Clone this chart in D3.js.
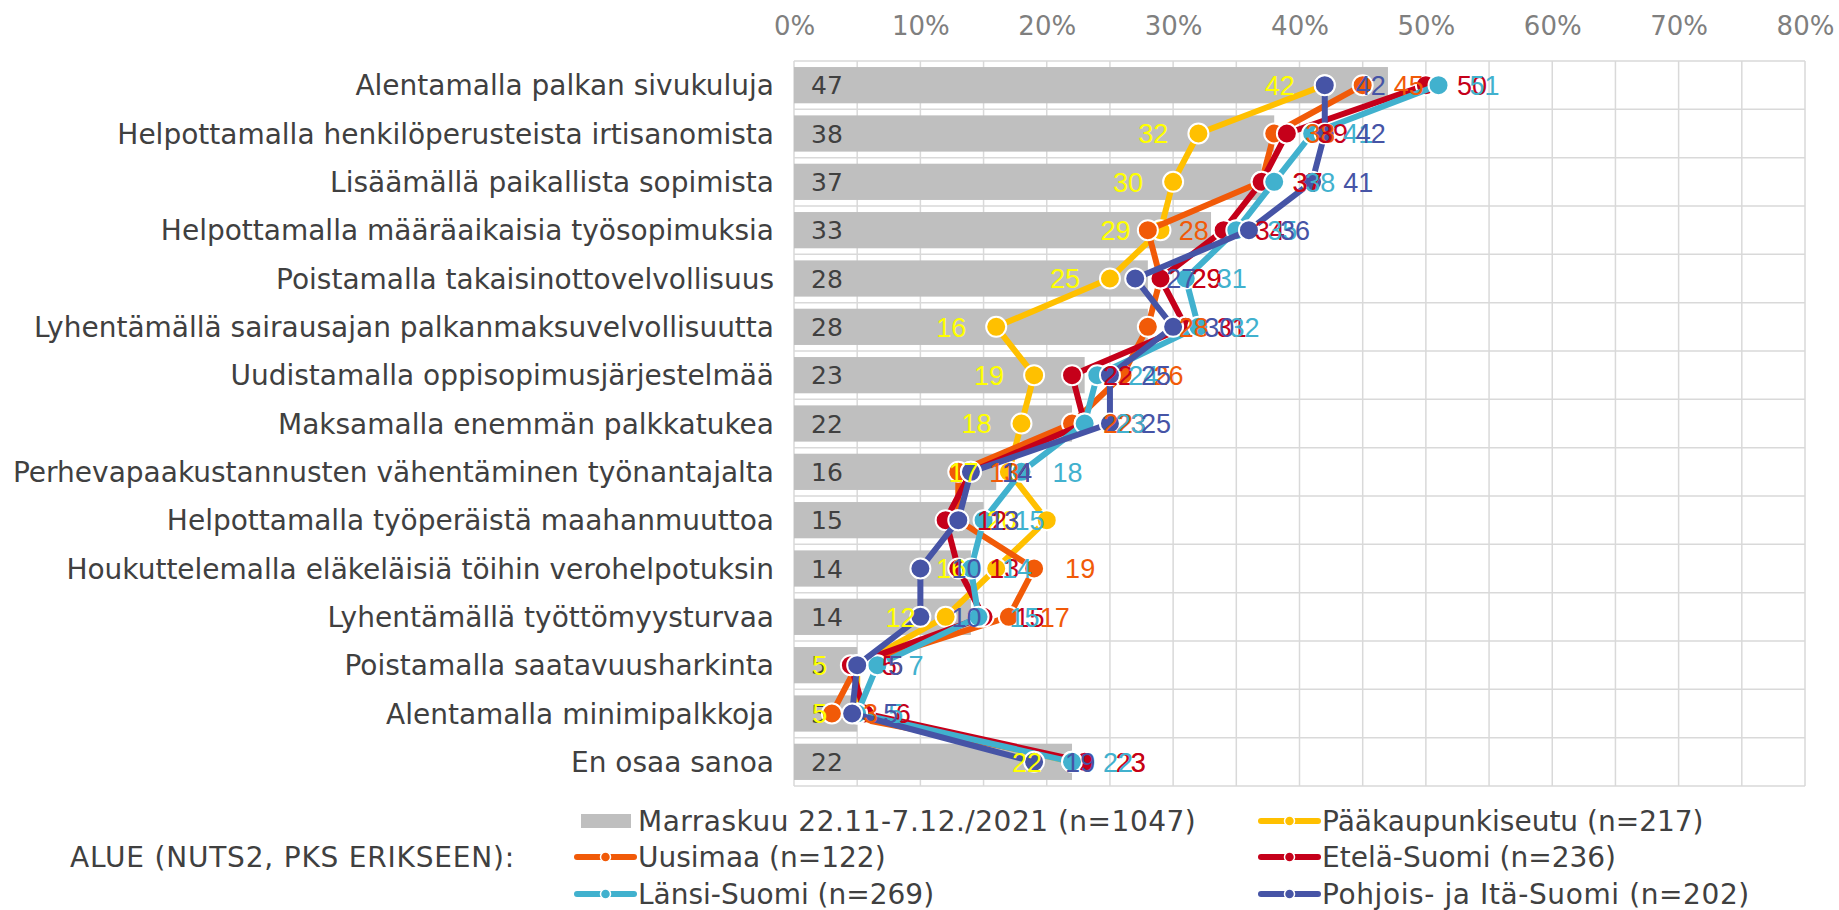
<!DOCTYPE html>
<html>
<head>
<meta charset="utf-8">
<script src="https://cdn.jsdelivr.net/npm/d3@7"></script>
<style>
  html, body { margin: 0; padding: 0; background: #ffffff; }
  svg { display: block; }
</style>
</head>
<body>
<script>
// ---- data ----
const categories = [
  "Alentamalla palkan sivukuluja",
  "Helpottamalla henkilöperusteista irtisanomista",
  "Lisäämällä paikallista sopimista",
  "Helpottamalla määräaikaisia työsopimuksia",
  "Poistamalla takaisinottovelvollisuus",
  "Lyhentämällä sairausajan palkanmaksuvelvollisuutta",
  "Uudistamalla oppisopimusjärjestelmää",
  "Maksamalla enemmän palkkatukea",
  "Perhevapaakustannusten vähentäminen työnantajalta",
  "Helpottamalla työperäistä maahanmuuttoa",
  "Houkuttelemalla eläkeläisiä töihin verohelpotuksin",
  "Lyhentämällä työttömyysturvaa",
  "Poistamalla saatavuusharkinta",
  "Alentamalla minimipalkkoja",
  "En osaa sanoa"
];
const marraskuu        = [47, 38, 37, 33, 28, 28, 23, 22, 16, 15, 14, 14, 5, 5, 22];
const paakaupunkiseutu = [42, 32, 30, 29, 25, 16, 19, 18, 17, 20, 16, 12, 5, 5, 22];
const uusimaa          = [45, 38, 37, 28, 29, 28, 26, 22, 13, 13, 19, 17, 5, 3, 23];
const etelaSuomi       = [50, 39, 37, 34, 29, 31, 22, 23, 14, 12, 13, 15, 4.5, 5.6, 23];
const lansiSuomi       = [51, 41, 38, 35, 31, 32, 24, 23, 18, 15, 14, 14.6, 6.6, 5, 22];
const pohjoisItaSuomi  = [42, 42, 41, 36, 27, 30, 25, 25, 14, 13, 10, 10, 5, 4.6, 19];
const tickValues = [0, 10, 20, 30, 40, 50, 60, 70, 80];
const gridValues = [0, 5, 10, 15, 20, 25, 30, 35, 40, 45, 50, 55, 60, 65, 70, 75, 80];
const barName = "Marraskuu 22.11-7.12./2021 (n=1047)";
const seriesNames = ["Pääkaupunkiseutu (n=217)", "Uusimaa (n=122)", "Etelä-Suomi (n=236)", "Länsi-Suomi (n=269)", "Pohjois- ja Itä-Suomi (n=202)"];
const legendTitle = "ALUE (NUTS2, PKS ERIKSEEN):";

// ---- styles ----
const seriesValues = [paakaupunkiseutu, uusimaa, etelaSuomi, lansiSuomi, pohjoisItaSuomi];
const lineColors  = ["#FFC000", "#F15A08", "#C5001A", "#41B1CE", "#4654A6"];
const labelColors = ["#FFFF00", "#F15A08", "#C5001A", "#41B1CE", "#4654A6"];
const labelSide   = ["left", "right", "right", "right", "right"];
const textColor = "#404040";
const gridColor = "#d9d9d9";
const barColor = "#bfbfbf";
const verdana = "'DejaVu Sans', Verdana, sans-serif";
const arial = "'Liberation Sans', Arial, sans-serif";

const W = 1839, H = 910;
const svg = d3.select("body").append("svg").attr("width", W).attr("height", H);

const x = d3.scaleLinear().domain([0, 80]).range([794, 1805]);
const y = d3.scaleBand().domain(categories).range([61, 786]).paddingInner(0.25).paddingOuter(0.125);
const cy = c => y(c) + y.bandwidth() / 2;
const step = y.step();

// grid
const grid = svg.append("g");
grid.selectAll("line.v").data(gridValues).join("line")
  .attr("x1", d => x(d)).attr("x2", d => x(d))
  .attr("y1", 61).attr("y2", 786)
  .attr("stroke", gridColor).attr("stroke-width", 1.5);
const hb = d3.range(categories.length + 1);
grid.selectAll("line.h").data(hb).join("line")
  .attr("x1", x(0)).attr("x2", x(80))
  .attr("y1", i => 61 + i * step).attr("y2", i => 61 + i * step)
  .attr("stroke", gridColor).attr("stroke-width", 1.5);

// top axis
const axis = svg.append("g").attr("transform", "translate(0,35)")
  .call(d3.axisTop(x).tickValues(tickValues).tickFormat(d => d + "%").tickSize(0).tickPadding(0));
axis.select(".domain").remove();
axis.selectAll("text").attr("font-family", verdana).attr("font-size", 26).attr("fill", "#7f7f7f")
  .attr("dy", 0);

// category labels
svg.append("g").selectAll("text").data(categories).join("text")
  .attr("x", 774).attr("y", d => cy(d)).attr("dy", "0.36em")
  .attr("text-anchor", "end").attr("font-family", verdana).attr("font-size", 28)
  .attr("fill", textColor).text(d => d);

// bars
svg.append("g").selectAll("rect").data(categories).join("rect")
  .attr("x", x(0)).attr("y", d => y(d))
  .attr("width", (d, i) => x(marraskuu[i]) - x(0))
  .attr("height", y.bandwidth()).attr("fill", barColor);
svg.append("g").selectAll("text").data(categories).join("text")
  .attr("x", x(0) + 17).attr("y", d => cy(d)).attr("dy", "0.36em")
  .attr("font-family", verdana).attr("font-size", 25).attr("fill", textColor)
  .text((d, i) => marraskuu[i]);

// series lines + markers
const line = d3.line().x(d => x(d.v)).y(d => cy(d.c));
seriesValues.forEach((vals, s) => {
  const pts = categories.map((c, i) => ({ c, v: vals[i] }));
  const g = svg.append("g");
  g.append("path").datum(pts).attr("d", line).attr("fill", "none")
    .attr("stroke", lineColors[s]).attr("stroke-width", 6).attr("stroke-linejoin", "round");
  g.selectAll("circle").data(pts).join("circle")
    .attr("cx", d => x(d.v)).attr("cy", d => cy(d.c)).attr("r", 10)
    .attr("fill", lineColors[s]).attr("stroke", "#ffffff").attr("stroke-width", 2);
});

// data labels
seriesValues.forEach((vals, s) => {
  const pts = categories.map((c, i) => ({ c, v: vals[i] }));
  svg.append("g").selectAll("text").data(pts).join("text")
    .attr("x", d => labelSide[s] === "left" ? x(d.v) - 30 : x(d.v) + 31)
    .attr("y", d => cy(d.c)).attr("dy", "0.36em")
    .attr("text-anchor", labelSide[s] === "left" ? "end" : "start")
    .attr("font-family", arial).attr("font-size", 27).attr("fill", labelColors[s])
    .text(d => Math.round(d.v));
});

// legend
const lg = svg.append("g").attr("font-family", verdana).attr("font-size", 28).attr("fill", textColor);
lg.append("text").attr("x", 70).attr("y", 857).attr("dy", "0.36em")
  .attr("letter-spacing", 0.8).text(legendTitle);
const legendItems = [
  { name: barName, type: "bar", col: 0, row: 0, ls: 0.5 },
  { name: seriesNames[0], type: "line", color: lineColors[0], col: 1, row: 0, ls: 0 },
  { name: seriesNames[1], type: "line", color: lineColors[1], col: 0, row: 1, ls: 0 },
  { name: seriesNames[2], type: "line", color: lineColors[2], col: 1, row: 1, ls: 0 },
  { name: seriesNames[3], type: "line", color: lineColors[3], col: 0, row: 2, ls: 0 },
  { name: seriesNames[4], type: "line", color: lineColors[4], col: 1, row: 2, ls: 0.6 }
];
const colX = [577, 1261];
const rowY = [821, 857, 894];
legendItems.forEach(it => {
  const x0 = colX[it.col], yy = rowY[it.row];
  if (it.type === "bar") {
    lg.append("rect").attr("x", x0 + 4).attr("y", yy - 7).attr("width", 50).attr("height", 14).attr("fill", barColor);
  } else {
    lg.append("line").attr("x1", x0).attr("x2", x0 + 57).attr("y1", yy).attr("y2", yy)
      .attr("stroke", it.color).attr("stroke-width", 6).attr("stroke-linecap", "round");
    lg.append("circle").attr("cx", x0 + 28.5).attr("cy", yy).attr("r", 5)
      .attr("fill", it.color).attr("stroke", "#ffffff").attr("stroke-width", 1.5);
  }
  lg.append("text").attr("x", x0 + 61).attr("y", yy).attr("dy", "0.36em")
    .attr("letter-spacing", it.ls).text(it.name);
});
</script>
</body>
</html>
